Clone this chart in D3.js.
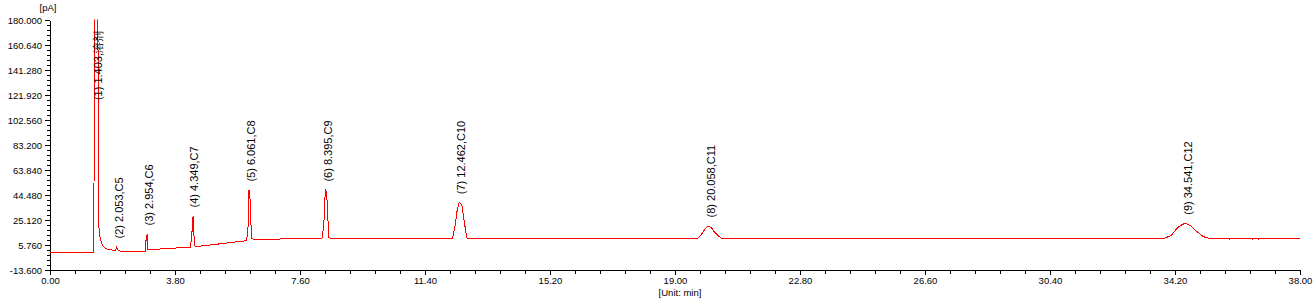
<!DOCTYPE html>
<html>
<head>
<meta charset="utf-8">
<script src="https://cdn.jsdelivr.net/npm/d3@7"></script>
<style>
  body { margin: 0; background: #fff; }
  .axis text { font-family: Arial, "Liberation Sans", sans-serif; font-size: 9.5px; fill: #000; }
  .axis path, .axis line { stroke: #000; shape-rendering: crispEdges; }
  .peakLabel { font-family: Arial, "Liberation Sans", sans-serif; font-size: 11px; fill: #000; }
</style>
</head>
<body>
<div class="chrom_box"></div>
<script>
// retention time (min) / detector signal (pA)
var times = [
  0, 1.33, 1.36, 1.45, 1.49, 1.52, 1.57, 1.62, 1.72, 1.88, 1.99,
  2.03, 2.07, 2.13, 2.89, 2.92, 2.954, 2.98, 3.19, 3.65,
  4.26, 4.30, 4.349, 4.38, 4.41, 4.47, 4.77, 5.32, 5.62, 5.93,
  5.98, 6.02, 6.045, 6.075, 6.10, 6.14, 6.20, 6.25, 7.00, 7.05, 7.15, 7.55, 7.80, 8.25,
  8.28, 8.33, 8.37, 8.41, 8.44, 8.48, 8.52,
  12.24, 12.27, 12.31, 12.37, 12.43, 12.462, 12.52, 12.55, 12.61, 12.65, 12.68,
  19.68, 19.74, 19.81, 19.89, 19.96, 20.03, 20.12, 20.19, 20.29, 20.37, 20.40,
  33.87, 34.00, 34.10, 34.20, 34.30, 34.40, 34.50, 34.60, 34.71, 34.81, 34.91, 35.01, 35.11, 35.21, 35.30,
  35.85, 35.87, 35.89, 36.53, 36.55, 36.57, 36.73, 36.75, 36.77, 38.00
];
var signal = [
  0.1, 0.1, 200, 200, 18.9, 12.2, 7.3, 4.4, 2.7, 1.9, 1.5,
  4.2, 1.5, 1.1, 1.1, 9.6, 14.3, 1.9, 2.4, 3.2,
  4.0, 9.6, 28.2, 11.2, 4.4, 4.6, 5.5, 7.1, 8.1, 8.9,
  9.0, 20, 48.3, 46, 25, 10.5, 10.2, 10.3, 10.4, 10.8, 10.4, 10.7, 10.9, 11.0,
  11.5, 25, 48.3, 47, 30, 11.5, 10.95,
  10.95, 15.0, 19.9, 31.3, 38.3, 38.5, 36.7, 31.3, 21.2, 14.3, 11.0,
  10.95, 12.2, 14.3, 17.4, 19.4, 20.5, 18.7, 16.1, 13.5, 11.7, 10.95,
  10.95, 12.2, 13.5, 16.8, 19.5, 21.25, 22.6, 21.8, 19.9, 17.4, 15.3, 13.0, 11.8, 11.2, 10.6,
  10.6, 10.2, 10.6, 10.6, 10.2, 10.6, 10.6, 10.2, 10.6, 10.6
];

var peakNo = [1, 2, 3, 4, 5, 6, 7, 8, 9];
var peakTime = [1.403, 2.053, 2.954, 4.349, 6.061, 8.395, 12.462, 20.058, 34.541];
var peakName = ["溶剂", "C5", "C6", "C7", "C8", "C9", "C10", "C11", "C12"];

var xTicks = [0, 3.8, 7.6, 11.4, 15.2, 19.0, 22.8, 26.6, 30.4, 34.2, 38.0];
var yTicks = [-13.6, 5.76, 25.12, 44.48, 63.84, 83.2, 102.56, 121.92, 141.28, 160.64, 180];

var width = 1316, height = 304;
var margin = {top: 20, right: 16, bottom: 34, left: 50};

var svg = d3.select(".chrom_box")
  .append("svg")
  .attr("width", width)
  .attr("height", height);

var x = d3.scaleLinear()
  .domain([xTicks[0], xTicks[xTicks.length - 1]])
  .range([margin.left, width - margin.right]);

var y = d3.scaleLinear()
  .domain([yTicks[0], yTicks[yTicks.length - 1]])
  .range([height - margin.bottom, margin.top]);

// 4 minor ticks between every pair of major ticks
function minors(ticks) {
  var out = [];
  for (var i = 0; i < ticks.length - 1; i++) {
    var step = (ticks[i + 1] - ticks[i]) / 5;
    for (var k = 1; k < 5; k++) out.push(ticks[i] + k * step);
  }
  return out;
}

svg.append("defs").append("clipPath")
  .attr("id", "plotClip")
  .append("rect")
  .attr("x", x.range()[0])
  .attr("y", y.range()[1] - 0.5)
  .attr("width", x.range()[1] - x.range()[0] + 1)
  .attr("height", y.range()[0] - y.range()[1] + 0.5);

// axes
svg.append("g")
  .attr("class", "axis")
  .attr("transform", "translate(0," + y.range()[0] + ")")
  .call(d3.axisBottom(x).tickValues(minors(xTicks)).tickSize(4).tickSizeOuter(0).tickFormat(""))
  .select(".domain").remove();

svg.append("g")
  .attr("class", "axis")
  .attr("transform", "translate(0," + y.range()[0] + ")")
  .call(d3.axisBottom(x).tickValues(xTicks).tickSize(5).tickPadding(2).tickSizeOuter(0)
    .tickFormat(function(d) { return d.toFixed(2); }));

svg.append("g")
  .attr("class", "axis")
  .attr("transform", "translate(" + x.range()[0] + ",0)")
  .call(d3.axisLeft(y).tickValues(minors(yTicks)).tickSize(3).tickSizeOuter(0).tickFormat(""))
  .select(".domain").remove();

svg.append("g")
  .attr("class", "axis")
  .attr("transform", "translate(" + x.range()[0] + ",0)")
  .call(d3.axisLeft(y).tickValues(yTicks).tickSize(5).tickPadding(3).tickSizeOuter(0)
    .tickFormat(function(d) { return d.toFixed(3); }));

svg.append("text")
  .attr("class", "axis")
  .attr("x", 48)
  .attr("y", 11)
  .attr("text-anchor", "middle")
  .style("font-family", "Arial, 'Liberation Sans', sans-serif")
  .style("font-size", "9.5px")
  .text("[pA]");

svg.append("text")
  .attr("x", 680)
  .attr("y", 296)
  .attr("text-anchor", "middle")
  .style("font-family", "Arial, 'Liberation Sans', sans-serif")
  .style("font-size", "9.5px")
  .text("[Unit: min]");

// trace
var pts = times.map(function(t, i) { return [t, signal[i]]; });

svg.append("path")
  .datum(pts)
  .attr("clip-path", "url(#plotClip)")
  .attr("fill", "none")
  .attr("stroke", "#ff0000")
  .attr("stroke-width", 1)
  .style("shape-rendering", "crispEdges")
  .attr("d", d3.line()
    .x(function(d) { return x(d[0]); })
    .y(function(d) { return y(d[1]); }));

// peak labels, rotated, sitting just above each apex
peakTime.forEach(function(pt, i) {
  var apex = d3.max(pts.filter(function(d) { return Math.abs(d[0] - pt) < 0.15; }),
    function(d) { return d[1]; });
  var lbl = svg.append("text")
    .attr("class", "peakLabel")
    .attr("dy", "0.35em")
    .text("(" + peakNo[i] + ") " + pt.toFixed(3) + "," + peakName[i]);
  var len = lbl.node().getComputedTextLength();
  var bottom = Math.max(y(apex) - 8.5, y.range()[1] + 11 + len);
  lbl.attr("transform", "translate(" + (x(pt) + 1.5) + "," + bottom + ") rotate(-90)");
});
</script>
</body>
</html>
